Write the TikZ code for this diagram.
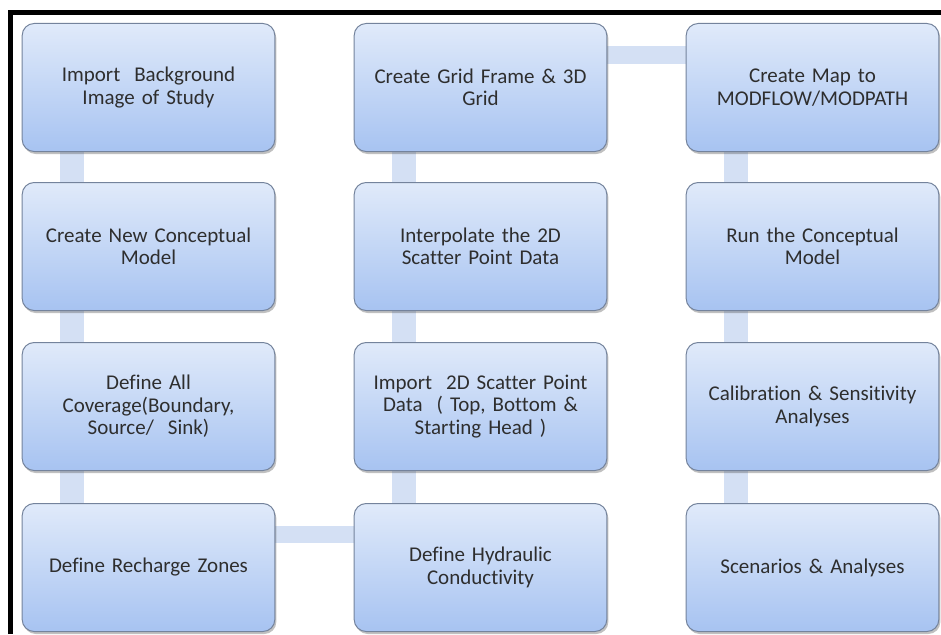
\documentclass[tikz,border=0pt]{standalone}
\usepackage{fontspec}
\setmainfont{Carlito}[Ligatures=NoCommon]
\usetikzlibrary{shadows,backgrounds}
\definecolor{boxtop}{HTML}{E0EAFA}
\definecolor{boxbot}{HTML}{A7C3F1}
\definecolor{boxedge}{HTML}{74839C}
\definecolor{barcol}{HTML}{D4E0F4}
\definecolor{txt}{HTML}{2E2E2E}
\tikzset{
  stepbox/.style={draw=boxedge, line width=1pt, rounded corners=12pt,
    top color=boxtop, bottom color=boxbot,
    minimum width=252pt, minimum height=128pt, text width=246pt, align=center,
    font=\fontsize{21}{22.5}\selectfont, text=txt,
    drop shadow={shadow xshift=1.5pt, shadow yshift=-2.5pt, opacity=0.35, fill=black!70}},
  vbar/.style={draw=barcol, line width=24pt},
  hbar/.style={draw=barcol, line width=17pt},
  frameline/.style={draw=black, line width=5pt}
}
\begin{document}
\begin{tikzpicture}[x=1pt,y=-1pt]
\useasboundingbox (0,0) rectangle (941,634);
\node[stepbox] (a1) at (148.5,87.5) {Import \ Background\\Image of Study};
\node[stepbox] (a2) at (148.5,246.5) {Create New Conceptual\\Model};
\node[stepbox] (a3) at (148.5,406.5) {Define All\\Coverage(Boundary,\\Source/ \ Sink)};
\node[stepbox] (a4) at (148.5,567.5) {Define Recharge Zones};
\node[stepbox] (b1) at (480.5,87.5) {Create Grid Frame \& 3D\\Grid};
\node[stepbox] (b2) at (480.5,246.5) {Interpolate the 2D\\Scatter Point Data};
\node[stepbox] (b3) at (480.5,406.5) {Import \ 2D Scatter Point\\Data \ ( Top, Bottom \&\\Starting Head )};
\node[stepbox] (b4) at (480.5,567.5) {Define Hydraulic\\Conductivity};
\node[stepbox] (c1) at (812.5,87.5) {Create Map to\\MODFLOW/MODPATH};
\node[stepbox] (c2) at (812.5,246.5) {Run the Conceptual\\Model};
\node[stepbox] (c3) at (812.5,406.5) {Calibration \& Sensitivity\\Analyses};
\node[stepbox] (c4) at (812.5,567.5) {Scenarios \& Analyses};
\begin{scope}[on background layer]
\fill[white] (0,0) rectangle (941,634);
\draw[vbar] ([xshift=50pt]a1.south west) -- ([xshift=50pt]a2.north west);
\draw[vbar] ([xshift=50pt]a2.south west) -- ([xshift=50pt]a3.north west);
\draw[vbar] ([xshift=50pt]a3.south west) -- ([xshift=50pt]a4.north west);
\draw[hbar] ([yshift=-31pt]a4.north east) -- ([yshift=-31pt]b4.north west);
\draw[vbar] ([xshift=50pt]b4.north west) -- ([xshift=50pt]b3.south west);
\draw[vbar] ([xshift=50pt]b3.north west) -- ([xshift=50pt]b2.south west);
\draw[vbar] ([xshift=50pt]b2.north west) -- ([xshift=50pt]b1.south west);
\draw[hbar] ([yshift=-32pt]b1.north east) -- ([yshift=-32pt]c1.north west);
\draw[vbar] ([xshift=50pt]c1.south west) -- ([xshift=50pt]c2.north west);
\draw[vbar] ([xshift=50pt]c2.south west) -- ([xshift=50pt]c3.north west);
\draw[vbar] ([xshift=50pt]c3.south west) -- ([xshift=50pt]c4.north west);
\end{scope}
\draw[frameline] (10.5,634) -- (10.5,12.5) -- (941,12.5);
\end{tikzpicture}
\end{document}
